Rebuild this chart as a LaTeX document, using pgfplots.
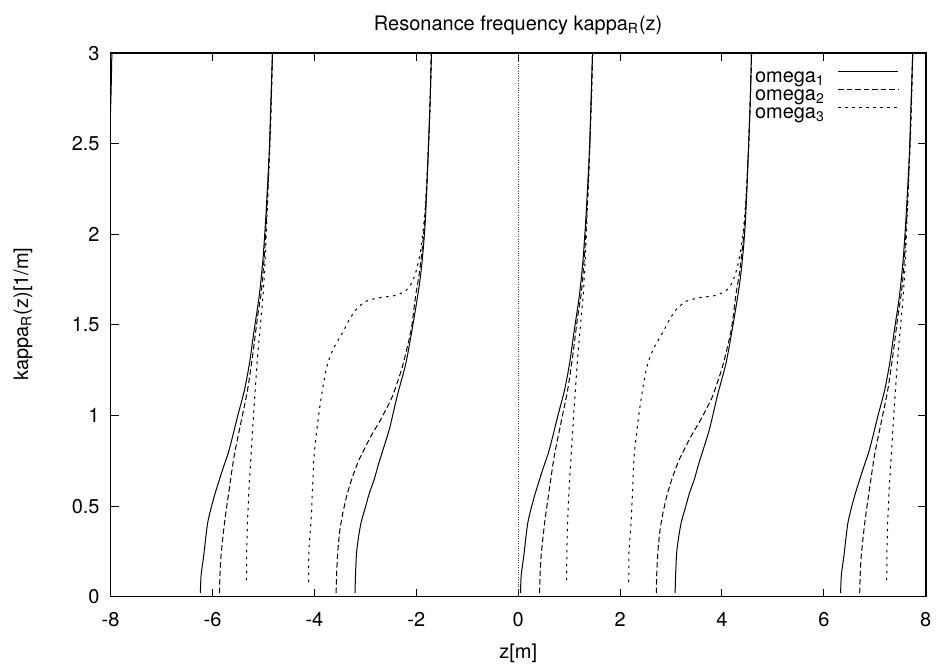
\documentclass[border=0pt]{standalone}
\usepackage{fontspec}
\setmainfont{TeX Gyre Heros}
\usepackage{pgfplots}
\pgfplotsset{compat=1.18}

\begin{document}
\fontsize{10}{12}\selectfont
\begin{tikzpicture}
\begin{axis}[
    scale only axis,
    width=408pt, height=272pt,
    xmin=-8, xmax=8, ymin=0, ymax=3,
    xtick={-8,-6,...,8},
    ytick={0,0.5,1,1.5,2,2.5,3},
    tick align=inside,
    major tick length=4pt,
    axis line style={line width=0.75pt},
    every tick/.style={black, line width=0.5pt},
    /pgf/number format/assume math mode=true,
    xticklabel style={anchor=base, yshift=-14.75pt},
    yticklabel style={xshift=-2pt},
    title={Resonance frequency kappa\textsubscript{R}(z)},
    xlabel={z[m]},
    ylabel={kappa\textsubscript{R}(z)[1/m]},
    every axis title/.style={at={(axis description cs:0.5,1.0423)}, anchor=base},
    every axis x label/.style={at={(axis description cs:0.5,-0.114)}, anchor=base},
    every axis y label/.style={at={(axis description cs:-0.1075,0.52)}, rotate=90, anchor=center},
    unbounded coords=jump,
    legend plot pos=right,
    legend cell align=right,
    legend style={draw=none, fill=none, at={(axis description cs:1,1)}, anchor=north east,
        xshift=-13.35pt, yshift=-7.2pt, inner sep=0pt, row sep=0pt, column sep=6.5pt,
        nodes={inner sep=0pt, text height=7.2pt, text depth=1.8pt}},
    legend image code/.code={\draw[#1] (0pt,2.6pt) -- (30pt,2.6pt);},
    every axis plot/.append style={line width=0.5pt, smooth, tension=0.4},
]
\coordinate (sw) at (rel axis cs:0,0);
\coordinate (ne) at (rel axis cs:1,1);

% zero axis
\addplot[black!75, line width=0.4pt, sharp plot, dash pattern=on 0.4pt off 0.8pt, forget plot]
    coordinates {(0,0) (0,3)};

% omega_1
\addplot[black] coordinates {
    (-8.03,2.5) (-8.0,2.69) (-7.985,2.85) (-7.975,3.0) (-7.972,3.05)
    (nan,nan)
    (-6.238,0.02) (-6.223,0.12) (-6.173,0.225) (-6.093,0.41) (-5.963,0.556) (-5.803,0.70)
    (-5.673,0.81) (-5.503,1.0) (-5.373,1.14) (-5.273,1.29) (-5.183,1.47) (-5.083,1.66)
    (-5.013,1.85) (-4.963,2.05) (-4.923,2.25) (-4.883,2.47) (-4.853,2.74) (-4.823,3.0) (-4.818,3.05)
    (nan,nan)
    (-3.203,0.02) (-3.193,0.12) (-3.173,0.24) (-3.133,0.33) (-3.083,0.41) (-3.003,0.49)
    (-2.923,0.57) (-2.823,0.65) (-2.733,0.74) (-2.533,0.92) (-2.373,1.11) (-2.203,1.29)
    (-2.073,1.49) (-1.973,1.66) (-1.913,1.78) (-1.863,1.92) (-1.828,2.05) (-1.803,2.19)
    (-1.763,2.47) (-1.728,2.74) (-1.703,3.0) (-1.698,3.05)
    (nan,nan)
    (0.045,0.02) (0.06,0.12) (0.11,0.225) (0.19,0.41) (0.32,0.556) (0.48,0.70)
    (0.61,0.81) (0.78,1.0) (0.91,1.14) (1.01,1.29) (1.10,1.47) (1.20,1.66)
    (1.27,1.85) (1.32,2.05) (1.36,2.25) (1.40,2.47) (1.43,2.74) (1.46,3.0) (1.465,3.05)
    (nan,nan)
    (3.08,0.02) (3.09,0.12) (3.11,0.24) (3.15,0.33) (3.20,0.41) (3.28,0.49)
    (3.36,0.57) (3.46,0.65) (3.55,0.74) (3.75,0.92) (3.91,1.11) (4.08,1.29)
    (4.21,1.49) (4.31,1.66) (4.37,1.78) (4.42,1.92) (4.455,2.05) (4.48,2.19)
    (4.52,2.47) (4.555,2.74) (4.58,3.0) (4.585,3.05)
    (nan,nan)
    (6.328,0.02) (6.343,0.12) (6.393,0.225) (6.473,0.41) (6.603,0.556) (6.763,0.70)
    (6.893,0.81) (7.063,1.0) (7.193,1.14) (7.293,1.29) (7.383,1.47) (7.483,1.66)
    (7.553,1.85) (7.603,2.05) (7.643,2.25) (7.683,2.47) (7.713,2.74) (7.743,3.0) (7.748,3.05)
};
\addlegendentry{omega\textsubscript{1}}

% omega_2
\addplot[black, dash pattern=on 2.75pt off 1.5pt] coordinates {
    (-5.863,0.02) (-5.853,0.12) (-5.833,0.225) (-5.763,0.41) (-5.673,0.59) (-5.573,0.78)
    (-5.443,0.96) (-5.313,1.14) (-5.213,1.33) (-5.113,1.55) (-5.043,1.68) (-4.983,1.88)
    (-4.943,2.08) (-4.908,2.28) (-4.878,2.50) (-4.848,2.75) (-4.823,3.0) (-4.818,3.05)
    (nan,nan)
    (-3.573,0.02) (-3.563,0.13) (-3.543,0.24) (-3.503,0.36) (-3.443,0.46) (-3.353,0.57)
    (-3.253,0.66) (-3.133,0.75) (-2.993,0.83) (-2.863,0.90) (-2.733,0.96) (-2.583,1.04)
    (-2.463,1.11) (-2.273,1.27) (-2.103,1.47) (-2.013,1.66) (-1.933,1.80) (-1.873,1.95)
    (-1.833,2.08) (-1.803,2.22) (-1.763,2.47) (-1.728,2.74) (-1.703,3.0) (-1.698,3.05)
    (nan,nan)
    (0.42,0.02) (0.43,0.12) (0.45,0.225) (0.52,0.41) (0.61,0.59) (0.71,0.78)
    (0.84,0.96) (0.97,1.14) (1.07,1.33) (1.17,1.55) (1.24,1.68) (1.30,1.88)
    (1.34,2.08) (1.375,2.28) (1.405,2.50) (1.435,2.75) (1.46,3.0) (1.465,3.05)
    (nan,nan)
    (2.71,0.02) (2.72,0.13) (2.74,0.24) (2.78,0.36) (2.84,0.46) (2.93,0.57)
    (3.03,0.66) (3.15,0.75) (3.29,0.83) (3.42,0.90) (3.55,0.96) (3.70,1.04)
    (3.82,1.11) (4.01,1.27) (4.18,1.47) (4.27,1.66) (4.35,1.80) (4.41,1.95)
    (4.45,2.08) (4.48,2.22) (4.52,2.47) (4.555,2.74) (4.58,3.0) (4.585,3.05)
    (nan,nan)
    (6.703,0.02) (6.713,0.12) (6.733,0.225) (6.803,0.41) (6.893,0.59) (6.993,0.78)
    (7.123,0.96) (7.253,1.14) (7.353,1.33) (7.453,1.55) (7.523,1.68) (7.583,1.88)
    (7.623,2.08) (7.658,2.28) (7.688,2.50) (7.718,2.75) (7.743,3.0) (7.748,3.05)
};
\addlegendentry{omega\textsubscript{2}}

% omega_3
\addplot[black, dash pattern=on 1.25pt off 2.25pt] coordinates {
    (-5.333,0.09) (-5.328,0.25) (-5.313,0.41) (-5.283,0.60) (-5.243,0.78) (-5.183,1.05)
    (-5.113,1.33) (-5.043,1.55) (-5.003,1.68) (-4.963,1.88) (-4.933,2.08) (-4.903,2.28)
    (-4.873,2.50) (-4.843,2.75) (-4.823,3.0) (-4.818,3.05)
    (nan,nan)
    (-4.113,0.08) (-4.108,0.25) (-4.063,0.43) (-4.033,0.62) (-4.003,0.79) (-3.903,1.03)
    (-3.773,1.25) (-3.643,1.36) (-3.443,1.46) (-3.313,1.53) (-3.183,1.585) (-2.993,1.63)
    (-2.733,1.65) (-2.463,1.66) (-2.333,1.67) (-2.203,1.69) (-2.113,1.72) (-2.033,1.77)
    (-1.973,1.83) (-1.923,1.90) (-1.873,2.0) (-1.833,2.12) (-1.793,2.30) (-1.763,2.47)
    (-1.728,2.74) (-1.703,3.0) (-1.698,3.05)
    (nan,nan)
    (0.95,0.09) (0.955,0.25) (0.97,0.41) (1.00,0.60) (1.04,0.78) (1.10,1.05)
    (1.17,1.33) (1.24,1.55) (1.28,1.68) (1.32,1.88) (1.35,2.08) (1.38,2.28)
    (1.41,2.50) (1.44,2.75) (1.46,3.0) (1.465,3.05)
    (nan,nan)
    (2.17,0.08) (2.175,0.25) (2.22,0.43) (2.25,0.62) (2.28,0.79) (2.38,1.03)
    (2.51,1.25) (2.64,1.36) (2.84,1.46) (2.97,1.53) (3.10,1.585) (3.29,1.63)
    (3.55,1.65) (3.82,1.66) (3.95,1.67) (4.08,1.69) (4.17,1.72) (4.25,1.77)
    (4.31,1.83) (4.36,1.90) (4.41,2.0) (4.45,2.12) (4.49,2.30) (4.52,2.47)
    (4.555,2.74) (4.58,3.0) (4.585,3.05)
    (nan,nan)
    (7.233,0.09) (7.238,0.25) (7.253,0.41) (7.283,0.60) (7.323,0.78) (7.383,1.05)
    (7.453,1.33) (7.523,1.55) (7.563,1.68) (7.603,1.88) (7.633,2.08) (7.663,2.28)
    (7.693,2.50) (7.723,2.75) (7.743,3.0) (7.748,3.05)
};
\addlegendentry{omega\textsubscript{3}}
\end{axis}
\path ([shift={(-55.35pt,-35.25pt)}]sw) rectangle ([shift={(5.65pt,26.65pt)}]ne);
\end{tikzpicture}
\end{document}
